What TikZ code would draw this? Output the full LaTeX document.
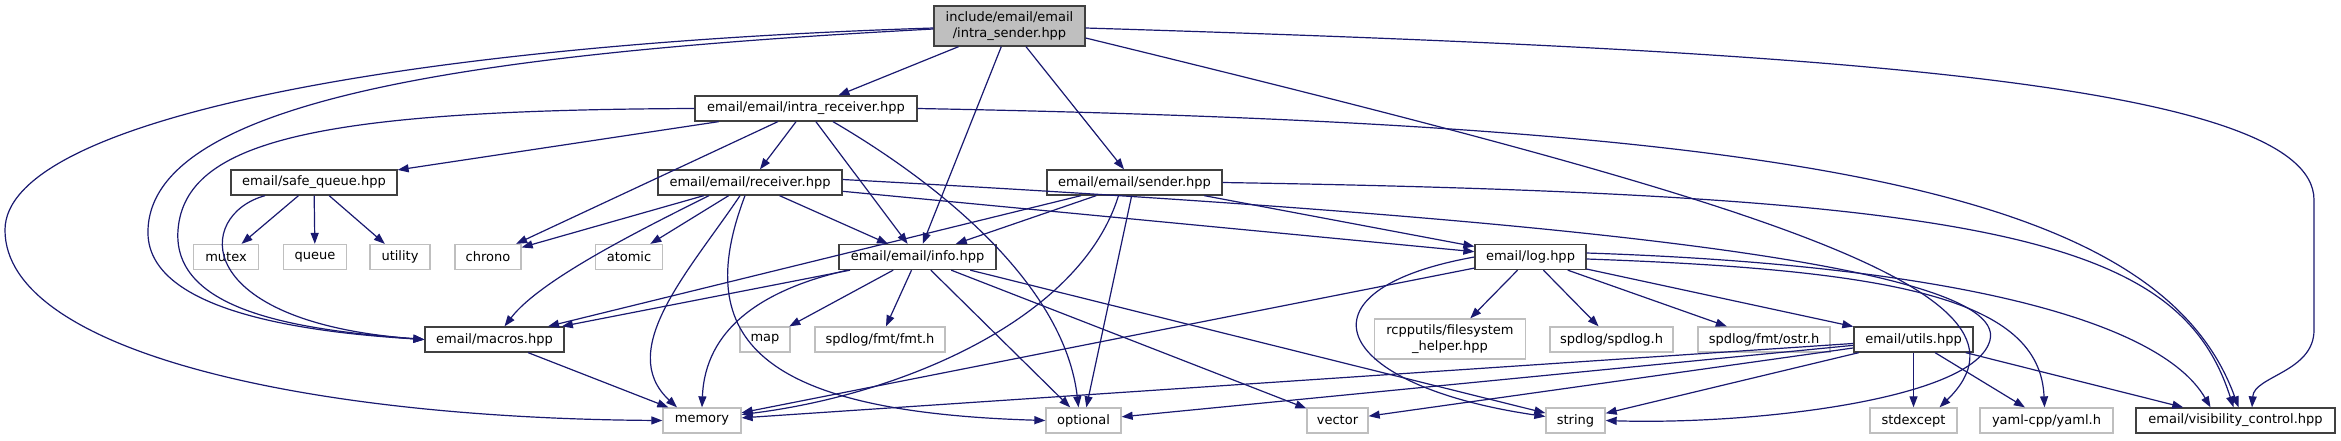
\documentclass[tikz,border=0pt]{standalone}
\usepackage{fontspec}
\setmainfont{DejaVu Sans}
\usetikzlibrary{arrows.meta}
\definecolor{edgec}{HTML}{191970}
\definecolor{extc}{HTML}{BFBFBF}
\definecolor{rootc}{HTML}{BFBFBF}
\definecolor{docc}{HTML}{404040}
\begin{document}
\begin{tikzpicture}[x=1pt,y=-1pt,
  box/.style={draw=docc, line width=1.3pt, fill=white, minimum height=25pt, inner sep=0pt,
              font=\fontsize{13}{15.5}\selectfont, align=center},
  ext/.style={box, draw=extc},
  root/.style={box, fill=rootc, minimum height=40pt},
  dep/.style={draw=edgec, line width=1.2pt, -{Triangle[length=11pt,width=8pt]}},
]
\useasboundingbox[fill=white] (0,0) rectangle (2341,440);

% nodes
\node[root, minimum width=151pt] (IS) at (1009.5,26) {include/email/email\\/intra\_sender.hpp};
\node[box, minimum width=222pt] (IR) at (806,108.5) {email/email/intra\_receiver.hpp};
\node[box, minimum width=166pt] (SQ) at (314,182.5) {email/safe\_queue.hpp};
\node[box, minimum width=184pt] (R) at (750,182.5) {email/email/receiver.hpp};
\node[box, minimum width=175pt] (S) at (1134.5,182.5) {email/email/sender.hpp};
\node[ext, minimum width=65pt] (mutex) at (226,257) {mutex};
\node[ext, minimum width=63pt] (queue) at (315,257) {queue};
\node[ext, minimum width=60pt] (utility) at (400,257) {utility};
\node[ext, minimum width=66pt] (CH) at (488,257) {chrono};
\node[ext, minimum width=67pt] (AT) at (629,257) {atomic};
\node[box, minimum width=157pt] (I) at (917.5,257) {email/email/info.hpp};
\node[box, minimum width=111pt] (L) at (1530.5,257) {email/log.hpp};
\node[box, minimum width=139pt] (M) at (494.5,339.5) {email/macros.hpp};
\node[ext, minimum width=50pt] (map) at (765,339.5) {map};
\node[ext, minimum width=130pt] (fmt) at (880,339.5) {spdlog/fmt/fmt.h};
\node[ext, minimum width=151pt, minimum height=40pt] (RCP) at (1450,339) {rcpputils/filesystem\\\_helper.hpp};
\node[ext, minimum width=123pt] (SPD) at (1611.5,339.5) {spdlog/spdlog.h};
\node[ext, minimum width=132pt] (OSTR) at (1764,339.5) {spdlog/fmt/ostr.h};
\node[box, minimum width=119pt] (U) at (1913.5,339.5) {email/utils.hpp};
\node[ext, minimum width=78pt] (MEM) at (702,420.5) {memory};
\node[ext, minimum width=75pt] (OPT) at (1083.5,420.5) {optional};
\node[ext, minimum width=61pt] (VEC) at (1337.5,420.5) {vector};
\node[ext, minimum width=59pt] (STR) at (1575.5,420.5) {string};
\node[ext, minimum width=87pt] (SE) at (1913.5,420.5) {stdexcept};
\node[ext, minimum width=133pt] (Y) at (2046.5,420.5) {yaml-cpp/yaml.h};
\node[box, minimum width=199pt] (V) at (2235.5,420.5) {email/visibility\_control.hpp};

% intra_sender
\draw[dep] (IS) -- (IR);
\draw[dep] (IS) -- (S);
\draw[dep] (IS) -- (I);
\draw[dep] ([yshift=-3pt]IS.west) .. controls (500,52) and (152,95) .. (148,230) .. controls (145,310) and (300,332) .. (M.west);
\draw[dep] ([yshift=-2pt]IS.west) .. controls (400,45) and (5,120) .. (5,230) .. controls (5,350) and (300,418) .. (MEM.west);
\draw[dep] ([yshift=-2pt]IS.east) .. controls (1800,50) and (2314,80) .. (2314,200) -- (2314,330) .. controls (2314,372) and (2254,376) .. ([xshift=16.5pt]V.north);
\draw[dep] ([yshift=-12pt]IS.east) .. controls (1750,200) and (2060,290) .. ([xshift=26pt]SE.north);

% intra_receiver
\draw[dep] (IR) -- (SQ);
\draw[dep] (IR) -- (R);
\draw[dep] (IR) -- (CH);
\draw[dep] (IR) -- (I);
\draw[dep] ([xshift=27pt]IR.south) .. controls (950,190) and (1065,290) .. ([xshift=-5pt]OPT.north);
\draw[dep] (IR.west) .. controls (320,110) and (185,140) .. (178,230) .. controls (172,312) and (300,330) .. (M.west);
\draw[dep] (IR.east) .. controls (1800,125) and (2160,190) .. ([xshift=3pt]V.north);

% safe_queue
\draw[dep] ([xshift=-49pt]SQ.south) .. controls (195,215) and (190,322) .. (M.west);
\draw[dep] (SQ) -- (mutex);
\draw[dep] (SQ) -- (queue);
\draw[dep] (SQ) -- (utility);

% receiver
\draw[dep] (R) -- (CH);
\draw[dep] (R) -- (AT);
\draw[dep] ([xshift=-41pt]R.south) .. controls (640,230) and (540,280) .. ([xshift=10pt]M.north);
\draw[dep] ([xshift=-10pt]R.south) .. controls (690,270) and (615,350) .. ([xshift=-25pt]MEM.north);
\draw[dep] ([xshift=-5pt]R.south) .. controls (690,340) and (760,412) .. (OPT.west);
\draw[dep] (R) -- (I);
\draw[dep] (R) -- (L);
\draw[dep] ([yshift=3pt]R.east) .. controls (1500,215) and (2010,260) .. (1990,340) .. controls (1975,400) and (1750,425) .. (STR.east);

% sender
\draw[dep] (S) -- (M);
\draw[dep] (S) -- (I);
\draw[dep] ([xshift=-16pt]S.south) .. controls (1080,320) and (900,395) .. ([yshift=6pt]MEM.east);
\draw[dep] (S) -- (OPT);
\draw[dep] (S) -- (L);
\draw[dep] (S.east) .. controls (2000,195) and (2180,240) .. ([xshift=-2pt]V.north);

% info
\draw[dep] (I) -- (M);
\draw[dep] ([xshift=-70pt]I.south) .. controls (760,290) and (705,330) .. (MEM.north);
\draw[dep] (I) -- (map);
\draw[dep] (I) -- (fmt);
\draw[dep] (I) -- (OPT);
\draw[dep] (I) -- (VEC);
\draw[dep] (I) -- (STR);

% log
\draw[dep] (L) -- (MEM);
\draw[dep] (L.west) .. controls (1290,290) and (1330,385) .. ([yshift=4pt]STR.west);
\draw[dep] (L) -- (RCP);
\draw[dep] (L) -- (SPD);
\draw[dep] (L) -- (OSTR);
\draw[dep] (L) -- (U);
\draw[dep] ([yshift=-2pt]L.east) .. controls (1900,270) and (2040,300) .. ([xshift=-2pt]Y.north);
\draw[dep] ([yshift=4pt]L.east) .. controls (1950,265) and (2160,320) .. ([xshift=-25pt]V.north);

% utils
\draw[dep] (U) -- (MEM);
\draw[dep] (U) -- (OPT);
\draw[dep] (U) -- (VEC);
\draw[dep] (U) -- (STR);
\draw[dep] (U) -- (SE);
\draw[dep] (U) -- (Y);
\draw[dep] (U) -- (V);

% macros
\draw[dep] (M) -- (MEM);
\end{tikzpicture}
\end{document}
